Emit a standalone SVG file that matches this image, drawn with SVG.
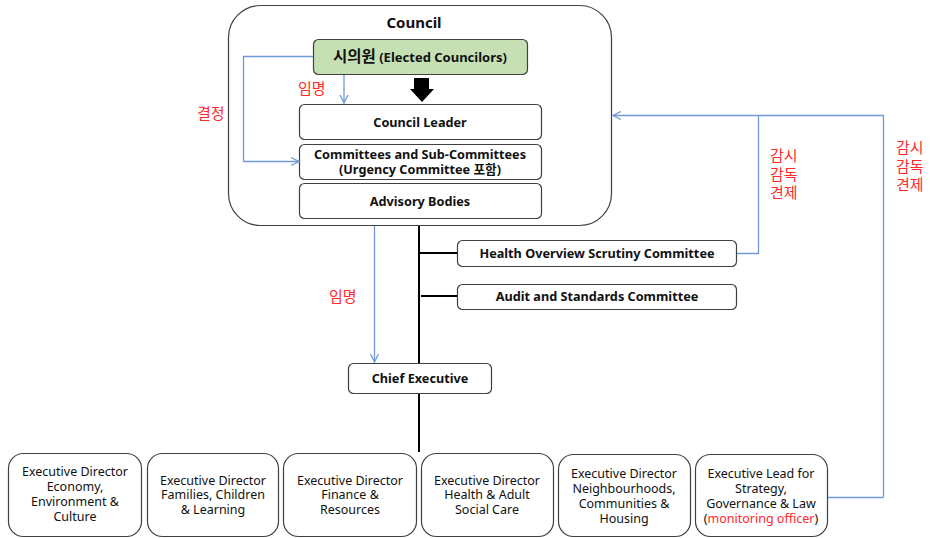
<svg xmlns="http://www.w3.org/2000/svg" width="930" height="538" viewBox="0 0 930 538">
  <style>
    .box { fill: #ffffff; stroke: #404040; stroke-width: 1.2; }
    .green { fill: #c6e0b4; stroke: #404040; stroke-width: 1.2; }
    .t { font-family: "Noto Sans", "Noto Sans CJK KR", sans-serif; fill: #111111; text-anchor: middle; }
    .b { font-weight: bold; font-size: 12.7px; }
    .n { font-size: 12.5px; }
    .red { font-family: "Noto Sans CJK KR", "Noto Sans", sans-serif; fill: #ff2a2a; font-size: 15px; }
    .blue { fill: none; stroke: #7099d8; stroke-width: 1.3; }
    .black { fill: none; stroke: #000000; stroke-width: 2; }
  </style>
  <defs>
    <marker id="chev" viewBox="0 0 10 10" refX="9" refY="5" markerWidth="10" markerHeight="10" markerUnits="userSpaceOnUse" orient="auto">
      <path d="M1,1 L9,5 L1,9" fill="none" stroke="#7099d8" stroke-width="1.3"/>
    </marker>
  </defs>
  <rect width="930" height="538" fill="#ffffff"/>

  <!-- Council container -->
  <g id="council">
    <rect class="box" x="228.5" y="5.5" width="383" height="220" rx="32"/>
    <text class="t" x="414" y="28" font-size="15" font-weight="bold">Council</text>
  </g>

  <g id="councilors">
    <rect class="green" x="313.5" y="39.5" width="214" height="35" rx="5"/>
    <text class="t" x="420" y="62" font-weight="bold"><tspan font-size="15.5">시의원</tspan><tspan font-size="13"> (Elected Councilors)</tspan></text>
  </g>

  <g id="council-leader">
    <rect class="box" x="299.5" y="104.5" width="242" height="35" rx="5"/>
    <text class="t b" x="420" y="127">Council Leader</text>
  </g>

  <g id="committees">
    <rect class="box" x="299.5" y="144.5" width="242" height="35" rx="5"/>
    <text class="t b" x="420" y="159">Committees and Sub-Committees</text>
    <text class="t b" x="420" y="174">(Urgency Committee 포함)</text>
  </g>

  <g id="advisory">
    <rect class="box" x="299.5" y="183.5" width="242" height="35" rx="5"/>
    <text class="t b" x="420" y="206">Advisory Bodies</text>
  </g>

  <g id="hosc">
    <rect class="box" x="457.5" y="240.5" width="279" height="26" rx="5"/>
    <text class="t b" x="597" y="258">Health Overview Scrutiny Committee</text>
  </g>

  <g id="audit">
    <rect class="box" x="457.5" y="284.5" width="279" height="25" rx="5"/>
    <text class="t b" x="597" y="301">Audit and Standards Committee</text>
  </g>

  <g id="chief-executive">
    <rect class="box" x="348.5" y="363.5" width="143" height="30" rx="5"/>
    <text class="t b" x="420" y="383">Chief Executive</text>
  </g>

  <g id="ed-economy">
    <rect class="box" x="8.5" y="453.5" width="133" height="83" rx="15"/>
    <text class="t n" x="75" y="476">Executive Director</text>
    <text class="t n" x="75" y="491">Economy,</text>
    <text class="t n" x="75" y="506">Environment &amp;</text>
    <text class="t n" x="75" y="521">Culture</text>
  </g>

  <g id="ed-families">
    <rect class="box" x="147.5" y="453.5" width="131" height="83" rx="15"/>
    <text class="t n" x="213" y="485">Executive Director</text>
    <text class="t n" x="213" y="499">Families, Children</text>
    <text class="t n" x="213" y="514">&amp; Learning</text>
  </g>

  <g id="ed-finance">
    <rect class="box" x="283.5" y="453.5" width="133" height="83" rx="15"/>
    <text class="t n" x="350" y="485">Executive Director</text>
    <text class="t n" x="350" y="499">Finance &amp;</text>
    <text class="t n" x="350" y="514">Resources</text>
  </g>

  <g id="ed-health">
    <rect class="box" x="421.5" y="453.5" width="132" height="83" rx="15"/>
    <text class="t n" x="487" y="485">Executive Director</text>
    <text class="t n" x="487" y="499">Health &amp; Adult</text>
    <text class="t n" x="487" y="514">Social Care</text>
  </g>

  <g id="ed-neighbourhoods">
    <rect class="box" x="558.5" y="454.5" width="132" height="82" rx="15"/>
    <text class="t n" x="624" y="478">Executive Director</text>
    <text class="t n" x="624" y="493">Neighbourhoods,</text>
    <text class="t n" x="624" y="508">Communities &amp;</text>
    <text class="t n" x="624" y="523">Housing</text>
  </g>

  <g id="el-strategy">
    <rect class="box" x="695.5" y="454.5" width="132" height="82" rx="15"/>
    <text class="t n" x="761" y="478">Executive Lead for</text>
    <text class="t n" x="761" y="493">Strategy,</text>
    <text class="t n" x="761" y="508">Governance &amp; Law</text>
    <text class="t n" x="761" y="523">(<tspan fill="#ff2a2a">monitoring officer</tspan>)</text>
  </g>

  <!-- Connectors -->
  <g id="connectors">
    <!-- reporting lines -->
    <path class="black" d="M419,226 V363"/>
    <path class="black" d="M419,394 V452"/>
    <path class="black" d="M419,253 H457"/>
    <path class="black" d="M421,296 H457"/>
    <!-- block arrow from councilors to leader -->
    <polygon points="414,78 429,78 429,89 434,89 422,102 410,89 414,89" fill="#000000"/>
    <!-- appointment / decision lines -->
    <path class="blue" d="M344,75 V103" marker-end="url(#chev)"/>
    <path class="blue" d="M313,56.5 H243.5 V161.5 H299" marker-end="url(#chev)"/>
    <path class="blue" d="M374.5,226 V362" marker-end="url(#chev)"/>
    <!-- scrutiny lines back to the council -->
    <path class="blue" d="M883.5,497.5 V115.5 H613" marker-end="url(#chev)"/>
    <path class="blue" d="M828,497.5 H883.5"/>
    <path class="blue" d="M737,253.5 H758.5 V115.5"/>
  </g>

  <g id="labels">
    <text class="red" x="298" y="94">임명</text>
    <text class="red" x="197" y="119">결정</text>
    <text class="red" x="329" y="302">임명</text>
    <text class="red" x="770" y="161">감시</text>
    <text class="red" x="770" y="180">감독</text>
    <text class="red" x="770" y="198">견제</text>
    <text class="red" x="896" y="153">감시</text>
    <text class="red" x="896" y="172">감독</text>
    <text class="red" x="896" y="190">견제</text>
  </g>
</svg>
